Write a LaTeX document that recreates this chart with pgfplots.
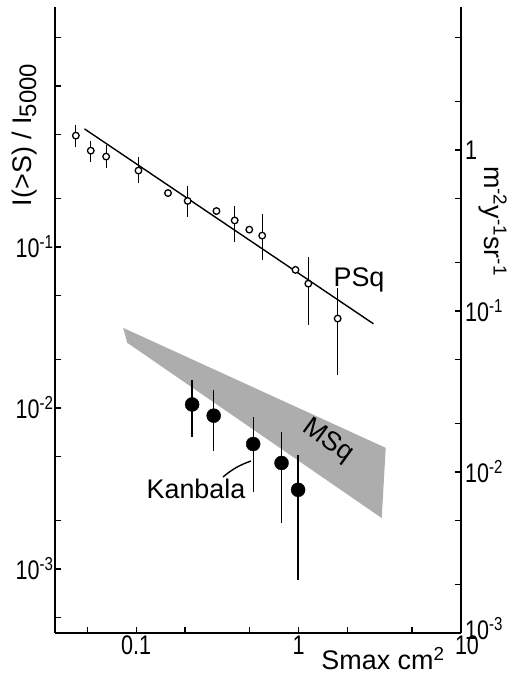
\documentclass[border=0pt]{standalone}
\usepackage{fontspec}
\setmainfont{Liberation Sans}
\usepackage{graphicx}
\usepackage{pgfplots}
\pgfplotsset{compat=1.18}

\newcommand{\lbl}{\fontsize{27}{31}\selectfont}
\newcommand{\sx}[1]{\scalebox{0.8}[1]{#1}}
\newcommand{\dec}[1]{\sx{10\textsuperscript{#1}}}

\begin{document}
\begin{tikzpicture}
\pgfplotsset{every axis/.append style={
    width=406bp, height=626bp, scale only axis,
    xmode=log, ymode=log, xmin=0.03162, xmax=10,
    tick align=inside,
    major tick length=6bp, minor tick length=6bp,
    axis line style={line width=1.8bp},
    every tick/.append style={line width=1.4bp, black},
    ticklabel style={font=\lbl},
}}

% left scale: I(>S)/I5000
\begin{axis}[
    axis y line*=left, axis x line*=bottom,
    ymin=4.0e-4, ymax=3.09,
    ytick={1e-3,1e-2,1e-1,1},
    yticklabels={\dec{-3},\dec{-2},\dec{-1},{}},
    yticklabel style={xshift=2bp},
    minor ytick={5e-4,2e-3,5e-3,2e-2,5e-2,0.2,0.5,2},
    xtick={0.1,1,10},
    xticklabels={\sx{0.1},\sx{1},\sx{\hphantom{0}10}},
    minor xtick={0.05,0.2,0.5,2,5},
    xticklabel style={yshift=-2bp, inner sep=1bp},
]
% MSq band
\addplot[fill=black!32, draw=none] coordinates {
    (0.0832,0.0314) (3.44,0.00565) (3.25,0.00207) (0.0880,0.0254) (0.0832,0.0314)
};

% PSq fit
\addplot[no marks, line width=1.4bp] coordinates {(0.048,0.541) (2.89,0.0333)};

% PSq points
\addplot[only marks, mark=*, mark size=3.3bp,
    mark options={fill=white, draw=black, line width=1.3bp},
    error bars/.cd, y dir=both, y explicit, error mark=none,
    error bar style={line width=1.2bp}]
coordinates {
    (0.0425,0.491)  += (0,0.082)  -= (0,0.073)
    (0.0525,0.396)  += (0,0.061)  -= (0,0.057)
    (0.0653,0.364)  += (0,0.066)  -= (0,0.054)
    (0.1033,0.298)  += (0,0.066)  -= (0,0.047)
    (0.157,0.216)   += (0,0)      -= (0,0)
    (0.2075,0.193)  += (0,0.046)  -= (0,0.040)
    (0.312,0.167)   += (0,0)      -= (0,0)
    (0.404,0.146)   += (0,0.034)  -= (0,0.038)
    (0.497,0.128)   += (0,0)      -= (0,0)
    (0.597,0.1175)  += (0,0.0425) -= (0,0.0345)
    (0.957,0.072)   += (0,0)      -= (0,0)
    (1.148,0.0591)  += (0,0.028)  -= (0,0.0263)
    (1.74,0.0359)   += (0,0.0194) -= (0,0.0199)
};

% Kanbala points
\addplot[only marks, mark=*, mark size=7bp, mark options={fill=black},
    error bars/.cd, y dir=both, y explicit, error mark=none,
    error bar style={line width=1.3bp}]
coordinates {
    (0.221,0.01051) += (0,0.00442) -= (0,0.00387)
    (0.300,0.00895) += (0,0.00399) -= (0,0.00358)
    (0.525,0.00597) += (0,0.00282) -= (0,0.00295)
    (0.785,0.00455) += (0,0.00258) -= (0,0.00262)
    (0.993,0.00310) += (0,0.00201) -= (0,0.002245)
};
\end{axis}

% right scale: m^-2 y^-1 sr^-1
\begin{axis}[
    axis y line*=right, axis x line=none,
    ymin=1e-3, ymax=7.73,
    ytick={1e-3,1e-2,1e-1,1},
    yticklabels={\raisebox{9bp}{\dec{-3}},\dec{-2},\dec{-1},\sx{1}},
    yticklabel style={xshift=3bp, inner sep=1bp},
    minor ytick={2e-3,5e-3,2e-2,5e-2,0.2,0.5,2,5},
]
\addplot[draw=none] coordinates {(1,1)};
\end{axis}

% labels
\node[rotate=90, font=\lbl] at (-30bp,498bp)
    {I(>S) / I\raisebox{-0.3ex}{\fontsize{24}{28}\selectfont 5000}};
\node[rotate=-90, font=\lbl] at (438bp,412bp)
    {m\textsuperscript{-2}y\textsuperscript{-1}sr\textsuperscript{-1}};
\node[font=\lbl, inner sep=1bp] at (328bp,-26bp) {Smax cm\textsuperscript{2}};
\node[font=\lbl] at (304bp,353bp) {PSq};
\node[font=\lbl, rotate=-36, inner sep=1bp] at (273bp,192bp) {MSq};
\node[font=\lbl] at (141bp,144bp) {Kanbala};
\draw[line width=1.4bp] (168bp,156bp) to[bend left=10] (196bp,172bp);

\path[use as bounding box] (-55bp,-42bp) rectangle (459bp,633bp);
\end{tikzpicture}
\end{document}
